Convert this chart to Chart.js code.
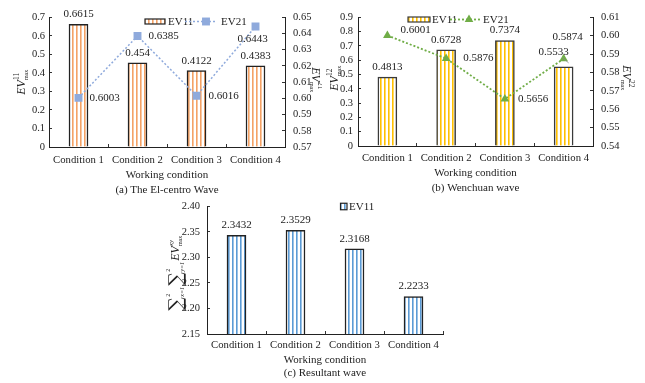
<!DOCTYPE html>
<html>
<head>
<meta charset="utf-8">
<script src="https://cdn.jsdelivr.net/npm/chart.js@4.4.1/dist/chart.umd.min.js"></script>
<style>
  html, body { margin: 0; padding: 0; background: #fff; }
  body { width: 645px; height: 383px; position: relative; overflow: hidden; }
  .panel { position: absolute; }
  .panel canvas { display: block; }
</style>
</head>
<body>
<div class="panel" style="left:0px;top:0px;width:322px;height:200px"><canvas id="elcentro"></canvas></div>
<div class="panel" style="left:320px;top:0px;width:325px;height:200px"><canvas id="wenchuan"></canvas></div>
<div class="panel" style="left:140px;top:190px;width:320px;height:193px"><canvas id="resultant"></canvas></div>
<script>
// ---- data ----
const conditions = ['Condition 1', 'Condition 2', 'Condition 3', 'Condition 4'];

// (a) El-centro wave
const elcentroEV11 = [0.6615, 0.454, 0.4122, 0.4383];
const elcentroEV21 = [0.6003, 0.6385, 0.6016, 0.6443];
const elcentroLeftTicks = ['0', '0.1', '0.2', '0.3', '0.4', '0.5', '0.6', '0.7'];
const elcentroRightTicks = ['0.57', '0.58', '0.59', '0.60', '0.61', '0.62', '0.63', '0.64', '0.65'];

// (b) Wenchuan wave
const wenchuanEV11 = [0.4813, 0.6728, 0.7374, 0.5533];
const wenchuanEV21 = [0.6001, 0.5876, 0.5656, 0.5874];
const wenchuanLeftTicks = ['0', '0.1', '0.2', '0.3', '0.4', '0.5', '0.6', '0.7', '0.8', '0.9'];
const wenchuanRightTicks = ['0.54', '0.55', '0.56', '0.57', '0.58', '0.59', '0.60', '0.61'];

// (c) Resultant wave
const resultantEV11 = [2.3432, 2.3529, 2.3168, 2.2233];
const resultantTicks = ['2.15', '2.20', '2.25', '2.30', '2.35', '2.40'];

// ---- styling helpers ----
const SERIF = "'Liberation Serif', 'Times New Roman', serif";
const INK = '#222';
Chart.defaults.font.family = SERIF;
Chart.defaults.color = INK;

function stripes(color) {
  const c = document.createElement('canvas');
  c.width = 4; c.height = 4;
  const g = c.getContext('2d');
  g.fillStyle = '#fff';
  g.fillRect(0, 0, 4, 4);
  g.fillStyle = color;
  g.fillRect(0, 0, 1.6, 4);
  return g.createPattern(c, 'repeat');
}

function valueAxis(labels, position, width, pad) {
  const vals = labels.map(Number);
  return {
    type: 'linear',
    position,
    min: vals[0],
    max: vals[vals.length - 1],
    afterBuildTicks: s => { s.ticks = vals.map(v => ({ value: v })); },
    afterFit: s => { s.width = width; },
    ticks: { callback: (v, i) => labels[i], padding: pad, autoSkip: false, font: { size: 10.5 }, color: INK },
    grid: { display: true, drawOnChartArea: false, drawTicks: true, tickLength: -3, color: '#333' },
    border: { display: true, color: INK, width: 1, z: 1 }
  };
}

function categoryAxis(caption, height, tickPad, lineH, bottomPad) {
  return {
    type: 'category',
    offset: true,
    afterFit: s => { s.height = height; },
    ticks: { padding: tickPad, maxRotation: 0, autoSkip: false, font: { size: 10.7 }, color: INK },
    grid: { display: true, offset: true, drawOnChartArea: false, tickLength: -3, color: '#333' },
    border: { display: true, color: INK, width: 1, z: 1 },
    title: {
      display: true,
      text: ['Working condition', caption],
      color: INK,
      font: { size: 11, lineHeight: lineH / 11 },
      padding: { top: 0, bottom: bottomPad }
    }
  };
}

// rich axis titles: italic symbols with stacked super/subscripts
function fontOf(p) {
  return (p.italic ? 'italic ' : '') + p.size + 'px ' + (p.family || SERIF);
}

function measureParts(ctx, parts) {
  let w = 0;
  for (const p of parts) {
    if (p.text !== undefined) {
      ctx.font = fontOf(p);
      p._w = ctx.measureText(p.text).width + (p.gap || 0);
    } else {
      let a = 0, b = 0;
      if (p.sup) { ctx.font = fontOf(p.sup); a = ctx.measureText(p.sup.text).width; }
      if (p.sub) { ctx.font = fontOf(p.sub); b = ctx.measureText(p.sub.text).width; }
      p._w = Math.max(a, b) + 0.5;
    }
    w += p._w;
  }
  return w;
}

function drawMathTitle(ctx, t) {
  ctx.save();
  ctx.translate(t.x, t.y);
  ctx.rotate(t.rot);
  ctx.fillStyle = INK;
  ctx.textBaseline = 'alphabetic';
  ctx.textAlign = 'left';
  const total = measureParts(ctx, t.parts);
  let x = -total / 2;
  const base = t.baseline;
  for (const p of t.parts) {
    if (p.text !== undefined) {
      ctx.font = fontOf(p);
      ctx.fillText(p.text, x, base + (p.dy || 0));
    } else {
      if (p.sup) {
        ctx.font = fontOf(p.sup);
        ctx.fillText(p.sup.text, x, base + p.sup.dy);
      }
      if (p.sub) {
        ctx.font = fontOf(p.sub);
        ctx.fillText(p.sub.text, x, base + p.sub.dy);
      }
    }
    x += p._w;
  }
  ctx.restore();
}

function evSymbol(sup, italicSup) {
  return [
    { text: 'EV', size: 12, italic: true },
    { sup: { text: sup, size: 7.5, dy: -6, italic: !!italicSup }, sub: { text: 'max', size: 6, dy: 2.5 } }
  ];
}

const axisTitles = {
  id: 'axisTitles',
  afterDraw(chart, args, opts) {
    for (const t of opts.items || []) drawMathTitle(chart.ctx, t);
  }
};

// legend drawn inside the plot
const keyBox = {
  id: 'keyBox',
  afterDraw(chart, args, opts) {
    const ctx = chart.ctx;
    ctx.save();
    ctx.font = '11px ' + SERIF;
    ctx.textBaseline = 'middle';
    ctx.textAlign = 'left';
    for (const it of opts.items || []) {
      const ds = chart.data.datasets[it.dataset];
      if (it.kind === 'bar') {
        ctx.fillStyle = ds.backgroundColor;
        ctx.fillRect(it.x, it.y - it.h / 2, it.w, it.h);
        ctx.strokeStyle = ds.borderColor;
        ctx.lineWidth = 1.2;
        ctx.strokeRect(it.x, it.y - it.h / 2, it.w, it.h);
        ctx.fillStyle = INK;
        ctx.fillText(ds.label, it.textX, it.y + 0.5);
      } else {
        ctx.fillStyle = INK;
        ctx.fillText(ds.label, it.textX, it.y + 0.5);
        ctx.strokeStyle = ds.borderColor;
        ctx.lineWidth = ds.borderWidth;
        ctx.setLineDash(ds.borderDash || []);
        ctx.beginPath();
        ctx.moveTo(it.x1, it.y);
        ctx.lineTo(it.x2, it.y);
        ctx.stroke();
        ctx.setLineDash([]);
        ctx.fillStyle = ds.pointBackgroundColor;
        ctx.beginPath();
        const r = ds.pointRadius;
        if (ds.pointStyle === 'rect') {
          const s = Math.SQRT1_2 * r;
          ctx.rect(it.mx - s, it.y - s, 2 * s, 2 * s);
        } else {
          ctx.moveTo(it.mx, it.y - r);
          ctx.lineTo(it.mx + r * 0.866, it.y + r * 0.5);
          ctx.lineTo(it.mx - r * 0.866, it.y + r * 0.5);
          ctx.closePath();
        }
        ctx.fill();
      }
    }
    ctx.restore();
  }
};

// value tags next to bars and markers
const valueTags = {
  id: 'valueTags',
  afterDatasetsDraw(chart, args, opts) {
    const ctx = chart.ctx;
    ctx.save();
    ctx.font = '11px ' + SERIF;
    ctx.fillStyle = INK;
    ctx.textBaseline = 'middle';
    for (const set of opts.sets || []) {
      const meta = chart.getDatasetMeta(set.dataset);
      const values = chart.data.datasets[set.dataset].data;
      meta.data.forEach((el, i) => {
        const pl = set.place[i];
        const x = el.x + pl.dx, y = el.y + pl.dy;
        ctx.textAlign = pl.align || 'center';
        ctx.fillText(String(values[i]), x, y);
        if (pl.leader) {
          ctx.strokeStyle = '#888';
          ctx.lineWidth = 0.8;
          ctx.beginPath();
          ctx.moveTo(el.x + pl.leader[0], el.y + pl.leader[1]);
          ctx.lineTo(el.x + pl.leader[2], el.y + pl.leader[3]);
          ctx.stroke();
        }
      });
    }
    ctx.restore();
  }
};

const above = { dx: 0, dy: -10 };

function baseOptions(padding) {
  return {
    responsive: true,
    maintainAspectRatio: false,
    animation: false,
    devicePixelRatio: 1,
    layout: { padding },
    plugins: { legend: { display: false }, tooltip: { enabled: false } }
  };
}

// ---- (a) El-centro wave ----
{
  const opts = baseOptions({ top: 15, left: 0, right: 0, bottom: 0 });
  opts.scales = {
    x: categoryAxis('(a) The El-centro Wave', 53, 9.7, 15, 2.5),
    y: valueAxis(elcentroLeftTicks, 'left', 49, 7),
    y1: valueAxis(elcentroRightTicks, 'right', 37, 11)
  };
  opts.plugins.valueTags = {
    sets: [
      { dataset: 0, place: [above, above, above, above] },
      { dataset: 1, place: [
        { dx: 11, dy: 0, align: 'left' },
        { dx: 11, dy: 0, align: 'left' },
        { dx: 12, dy: 0, align: 'left' },
        { dx: -3, dy: 13 }
      ] }
    ]
  };
  opts.plugins.keyBox = {
    items: [
      { dataset: 0, kind: 'bar', x: 145, y: 21.5, w: 20, h: 5, textX: 168 },
      { dataset: 1, kind: 'line', x1: 185, x2: 217, mx: 206, y: 21.5, textX: 221 }
    ]
  };
  opts.plugins.axisTitles = {
    items: [
      { x: 21, y: 82, rot: -Math.PI / 2, baseline: 4, parts: evSymbol('11') },
      { x: 316, y: 80, rot: Math.PI / 2, baseline: 4, parts: evSymbol('21') }
    ]
  };
  new Chart(document.getElementById('elcentro'), {
    data: {
      labels: conditions,
      datasets: [
        { type: 'bar', label: 'EV11', data: elcentroEV11, yAxisID: 'y', order: 2,
          backgroundColor: stripes('#F4A266'), borderColor: '#222', borderWidth: 1.5,
          barThickness: 19 },
        { type: 'line', label: 'EV21', data: elcentroEV21, yAxisID: 'y1', order: 1,
          borderColor: '#8FAADC', borderWidth: 1.5, borderDash: [2, 2], fill: false, tension: 0,
          pointStyle: 'rect', pointRadius: 5.6, pointBackgroundColor: '#8FAADC', pointBorderWidth: 0 }
      ]
    },
    options: opts,
    plugins: [valueTags, keyBox, axisTitles]
  });
}

// ---- (b) Wenchuan wave ----
{
  const opts = baseOptions({ top: 17, left: 0, right: 0, bottom: 0 });
  opts.scales = {
    x: categoryAxis('(b) Wenchuan wave', 54, 8.7, 15, 4.5),
    y: valueAxis(wenchuanLeftTicks, 'left', 38, 8),
    y1: valueAxis(wenchuanRightTicks, 'right', 52, 11)
  };
  opts.plugins.valueTags = {
    sets: [
      { dataset: 0, place: [above, above, above, { dx: -10, dy: -15, leader: [-1, -9, 5, -4] }] },
      { dataset: 1, place: [
        { dx: 13, dy: -5, align: 'left' },
        { dx: 17, dy: 0, align: 'left' },
        { dx: 13, dy: 0, align: 'left' },
        { dx: 4, dy: -22 }
      ] }
    ]
  };
  opts.plugins.keyBox = {
    items: [
      { dataset: 0, kind: 'bar', x: 88, y: 19.5, w: 22, h: 5, textX: 112 },
      { dataset: 1, kind: 'line', x1: 130, x2: 160, mx: 149, y: 19.5, textX: 163 }
    ]
  };
  opts.plugins.axisTitles = {
    items: [
      { x: 14, y: 78, rot: -Math.PI / 2, baseline: 4, parts: evSymbol('12') },
      { x: 307, y: 78, rot: Math.PI / 2, baseline: 4, parts: evSymbol('22') }
    ]
  };
  new Chart(document.getElementById('wenchuan'), {
    data: {
      labels: conditions,
      datasets: [
        { type: 'bar', label: 'EV11', data: wenchuanEV11, yAxisID: 'y', order: 2,
          backgroundColor: stripes('#FFC000'), borderColor: '#3a3a3a', borderWidth: 1.5,
          barThickness: 19 },
        { type: 'line', label: 'EV21', data: wenchuanEV21, yAxisID: 'y1', order: 1,
          borderColor: '#70AD47', borderWidth: 1.8, borderDash: [2, 2], fill: false, tension: 0,
          pointStyle: 'triangle', pointRadius: 5, pointBackgroundColor: '#70AD47', pointBorderWidth: 0 }
      ]
    },
    options: opts,
    plugins: [valueTags, keyBox, axisTitles]
  });
}

// ---- (c) Resultant wave ----
{
  const opts = baseOptions({ top: 15, left: 0, right: 17, bottom: 0 });
  opts.scales = {
    x: categoryAxis('(c) Resultant wave', 49, 7.7, 13, 3.5),
    y: valueAxis(resultantTicks, 'left', 67, 10)
  };
  opts.plugins.valueTags = {
    sets: [ { dataset: 0, place: [above, above, above, above] } ]
  };
  opts.plugins.keyBox = {
    items: [ { dataset: 0, kind: 'bar', x: 200.5, y: 16.5, w: 6.5, h: 6.5, textX: 209 } ]
  };
  const sumParts = (v) => [
    { text: '\u2211', size: 19, dy: 3, family: "'DejaVu Serif', serif", gap: 0.5 },
    { sup: { text: '2', size: 6, dy: -9 }, sub: { text: v + '=1', size: 6, dy: 5, italic: true } },
    { text: ' ', size: 3 }
  ];
  opts.plugins.axisTitles = {
    items: [
      { x: 35, y: 83, rot: -Math.PI / 2, baseline: 4,
        parts: [].concat(sumParts('x'), sumParts('y'),
          [{ text: 'EV', size: 12, italic: true },
           { sup: { text: 'xy', size: 7, dy: -6, italic: true }, sub: { text: 'max', size: 6, dy: 2.5 } }]) }
    ]
  };
  new Chart(document.getElementById('resultant'), {
    data: {
      labels: conditions,
      datasets: [
        { type: 'bar', label: 'EV11', data: resultantEV11, yAxisID: 'y',
          backgroundColor: stripes('#5B9BD5'), borderColor: '#222', borderWidth: 1.5,
          barThickness: 19 }
      ]
    },
    options: opts,
    plugins: [valueTags, keyBox, axisTitles]
  });
}
</script>
</body>
</html>
